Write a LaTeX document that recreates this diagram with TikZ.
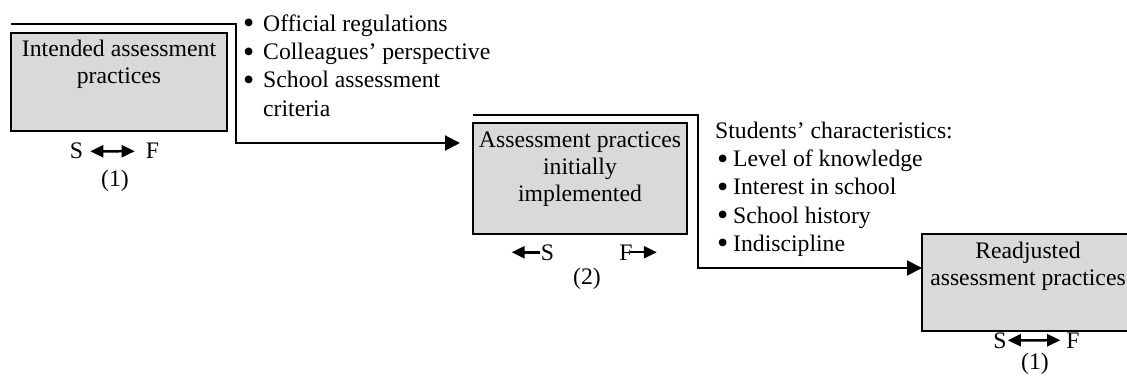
\documentclass[tikz,border=0pt]{standalone}
\usepackage{fontspec}
\setmainfont{Liberation Serif}
\usetikzlibrary{arrows.meta,positioning}

\newcommand{\bigdot}{\raisebox{-2.5pt}{\fontsize{32}{32}\selectfont\textbullet}}

\begin{document}
\begin{tikzpicture}[x=1pt,y=-1pt,
  box/.style={draw, line width=1.2pt, fill=black!15, inner sep=0pt, outer sep=0pt},
  boxtext/.style={anchor=north, align=center, inner sep=0pt, font=\fontsize{23.7}{27.3}\selectfont},
  listtext/.style={anchor=north west, align=left, inner sep=0pt, font=\fontsize{23.7}{28.3}\selectfont},
  lab/.style={anchor=base, inner sep=0pt, font=\fontsize{23.7}{27.3}\selectfont},
  flow/.style={line width=2pt, -{Triangle[length=15pt,width=15pt]}},
  sf/.style={line width=2.5pt, {Triangle[length=13pt,width=12pt]}-{Triangle[length=13pt,width=12pt]}},
  sfone/.style={line width=2.5pt, -{Triangle[length=13pt,width=12pt]}}]
\useasboundingbox (0,0) rectangle (1127,390);

% The three practice boxes
\node[box, minimum width=216pt, minimum height=98pt] (b1) at (119,82) {};
\node[box, minimum width=214pt, minimum height=111pt] (b2) at (580,178.5) {};
\node[box, minimum width=228pt, minimum height=97pt] (b3) at (1036,282.5) {};
\node[boxtext, below=3.9pt of b1.north] (t1) {\strut Intended assessment\\practices};
\node[boxtext, below=4.9pt of b2.north] (t2) {\strut Assessment practices\\initially\\implemented};
\node[boxtext, below=4.9pt of b3.north, xshift=-8pt] (t3) {\strut Readjusted\\assessment practices};

% Influences on each step
\node[listtext] (l1) at (243,11.2) {\strut\makebox[20pt][l]{\bigdot}Official regulations\\
  \makebox[20pt][l]{\bigdot}Colleagues’ perspective\\
  \makebox[20pt][l]{\bigdot}School assessment\\
  \hspace*{20pt}criteria};
\node[listtext] (l2) at (715,118.2) {\strut Students’ characteristics:\\
  \hspace*{2pt}\makebox[16pt][l]{\bigdot}Level of knowledge\\
  \hspace*{2pt}\makebox[16pt][l]{\bigdot}Interest in school\\
  \hspace*{2pt}\makebox[16pt][l]{\bigdot}School history\\
  \hspace*{2pt}\makebox[16pt][l]{\bigdot}Indiscipline};

% Flow lines between the boxes
\coordinate (k1) at (236,24);
\coordinate (e1) at (460,143);
\draw[flow] ([yshift=9pt]b1.north west) -- (k1) |- (e1);
\coordinate (k2) at (698,115);
\coordinate (e2) at (922,268);
\draw[flow] ([yshift=8pt]b2.north west) -- (k2) |- (e2);

% S and F under the boxes
\node[lab] (s1) at (76.5,159) {S};
\node[lab] (f1) at (152.5,159) {F};
\node[lab] (n1) at (115,187) {(1)};
\draw[sf] ([xshift=7pt]s1.east) -- ([xshift=-11pt]f1.west);

\node[lab] (s2) at (547.5,260) {S};
\node[lab] (f2) at (626,260) {F};
\node[lab] (n2) at (587,284) {(2)};
\coordinate[left=29pt of s2.west] (s2tip);
\coordinate[right=24pt of f2.east] (f2tip);
\draw[sfone] ([xshift=-1pt]s2.west) -- (s2tip);
\draw[sfone] ([xshift=-3pt]f2.east) -- (f2tip);

\node[lab] (s3) at (1000,348) {S};
\node[lab] (f3) at (1073,348) {F};
\node[lab] (n3) at (1035,369) {(1)};
\draw[sf] ([xshift=1pt]s3.east) -- ([xshift=-6pt]f3.west);
\end{tikzpicture}
\end{document}
